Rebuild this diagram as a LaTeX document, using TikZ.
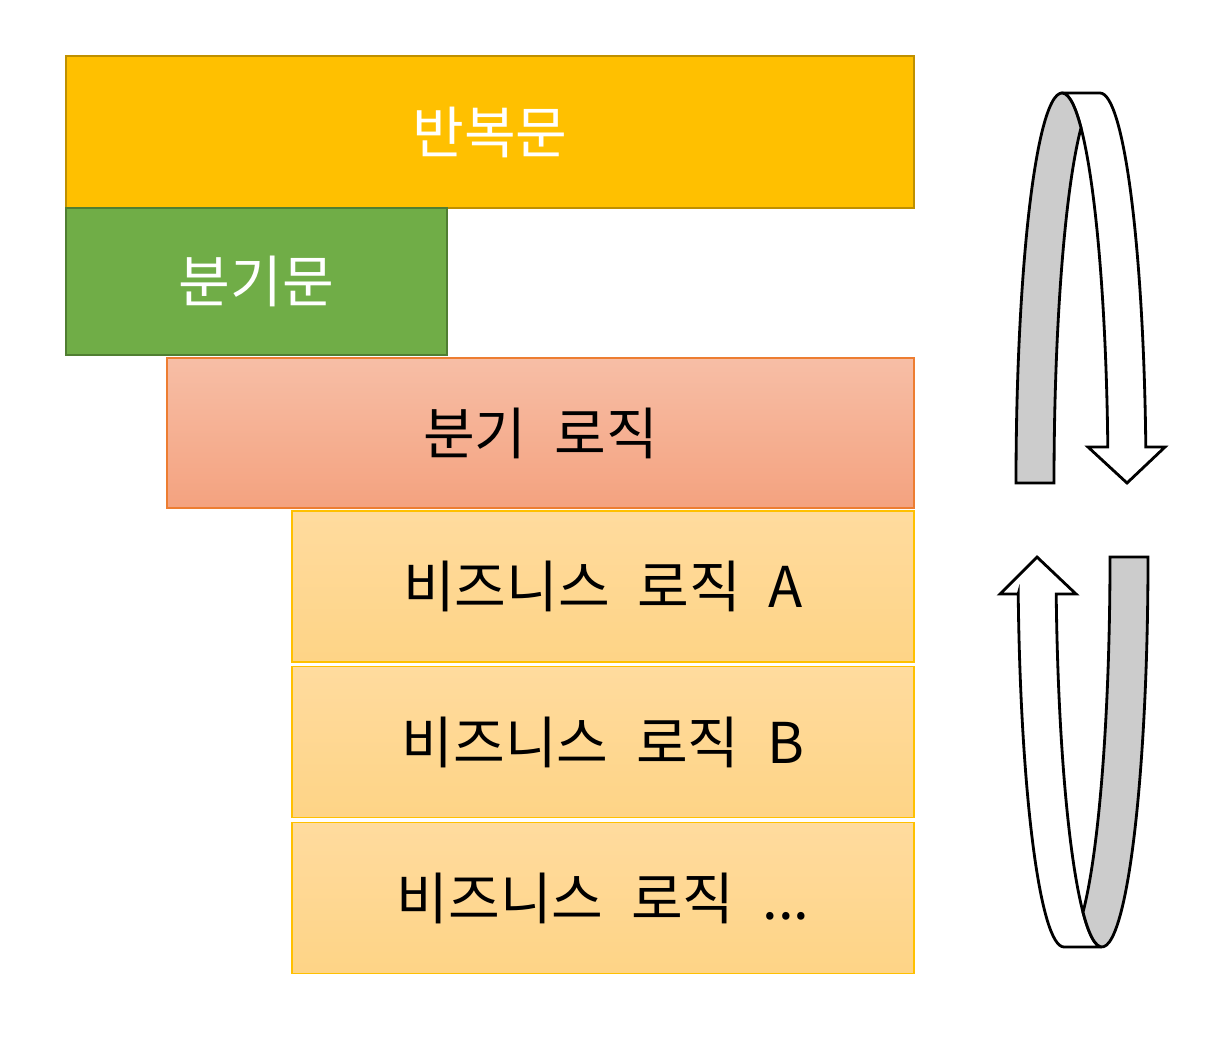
\documentclass[tikz,border=0pt]{standalone}
\usepackage{fontspec}
\setmainfont[WordSpace=2.2]{Noto Sans CJK KR}
\usepackage{tikz}
\usetikzlibrary{calc}

\definecolor{loopfill}{HTML}{FFC000}
\definecolor{loopline}{HTML}{BF9000}
\definecolor{branchfill}{HTML}{70AD47}
\definecolor{branchline}{HTML}{507E32}
\definecolor{logictop}{HTML}{F7BEA6}
\definecolor{logicbottom}{HTML}{F4A27F}
\definecolor{logicline}{HTML}{ED7D31}
\definecolor{biztop}{HTML}{FFDB9E}
\definecolor{bizbottom}{HTML}{FED486}
\definecolor{bizline}{HTML}{FFC000}
\definecolor{bandgray}{HTML}{CCCCCC}

\tikzset{
    block/.style={rectangle, inner sep=0pt, outer sep=0pt,
        font=\fontsize{32}{38}\selectfont},
    loopbox/.style={block, fill=loopfill, draw=loopline, line width=1.6pt,
        text=white, minimum width=16.96cm, minimum height=3.04cm},
    branchbox/.style={block, fill=branchfill, draw=branchline, line width=1.6pt,
        text=white, minimum width=7.62cm, minimum height=2.94cm},
    logicbox/.style={block, top color=logictop, bottom color=logicbottom,
        draw=logicline, line width=1.1pt, minimum width=14.94cm, minimum height=3cm},
    bizbox/.style={block, top color=biztop, bottom color=bizbottom,
        draw=bizline, line width=0.9pt, minimum width=12.44cm, minimum height=3.02cm},
    band/.style={draw=black, line width=1.6pt, line join=miter}
}

\begin{document}
\begin{tikzpicture}[x=0.02cm, y=-0.02cm]
        \useasboundingbox (0,0) rectangle (1230,1052);

        % Draw the stacked blocks
        \node[loopbox] (loop) at (490,132) {반복문};
        \node[branchbox] (branch) at (256.5,281.5) {분기문};
        \node[logicbox] (logic) at (540.5,433) {분기 로직};
        \node[bizbox] (bizA) at (603,586.5) {비즈니스 로직 A};
        \node[bizbox] (bizB) at (603,742) {비즈니스 로직 B};
        \node[bizbox] (bizC) at (603,898) {비즈니스 로직 ...};

        % Upper turning arrow: front band (white)
        \draw[band, fill=white] (1062,93) -- (1100,93)
            arc[start angle=270, end angle=354.7, x radius=46, y radius=390]
            -- (1165,447) -- (1127,483) -- (1088,447) -- (1107.8,447)
            arc[start angle=354.7, end angle=270, x radius=46, y radius=390] -- cycle;
        % Upper turning arrow: back band (gray)
        \draw[band, fill=bandgray] (1016,483)
            arc[start angle=180, end angle=294.4, x radius=46, y radius=390]
            arc[start angle=245.6, end angle=180, x radius=46, y radius=390] -- cycle;

        % Lower turning arrow: front band (white)
        \draw[band, fill=white] (1018.2,594) -- (1000,594) -- (1037,557) -- (1076,594)
            -- (1056.2,594)
            arc[start angle=174.56, end angle=90, x radius=46, y radius=390]
            -- (1064,947)
            arc[start angle=90, end angle=174.56, x radius=46, y radius=390] -- cycle;
        % Lower turning arrow: back band (gray)
        \draw[band, fill=bandgray] (1110,557)
            arc[start angle=0, end angle=65.6, x radius=46, y radius=390]
            arc[start angle=114.4, end angle=0, x radius=46, y radius=390] -- cycle;
    \end{tikzpicture}
\end{document}
